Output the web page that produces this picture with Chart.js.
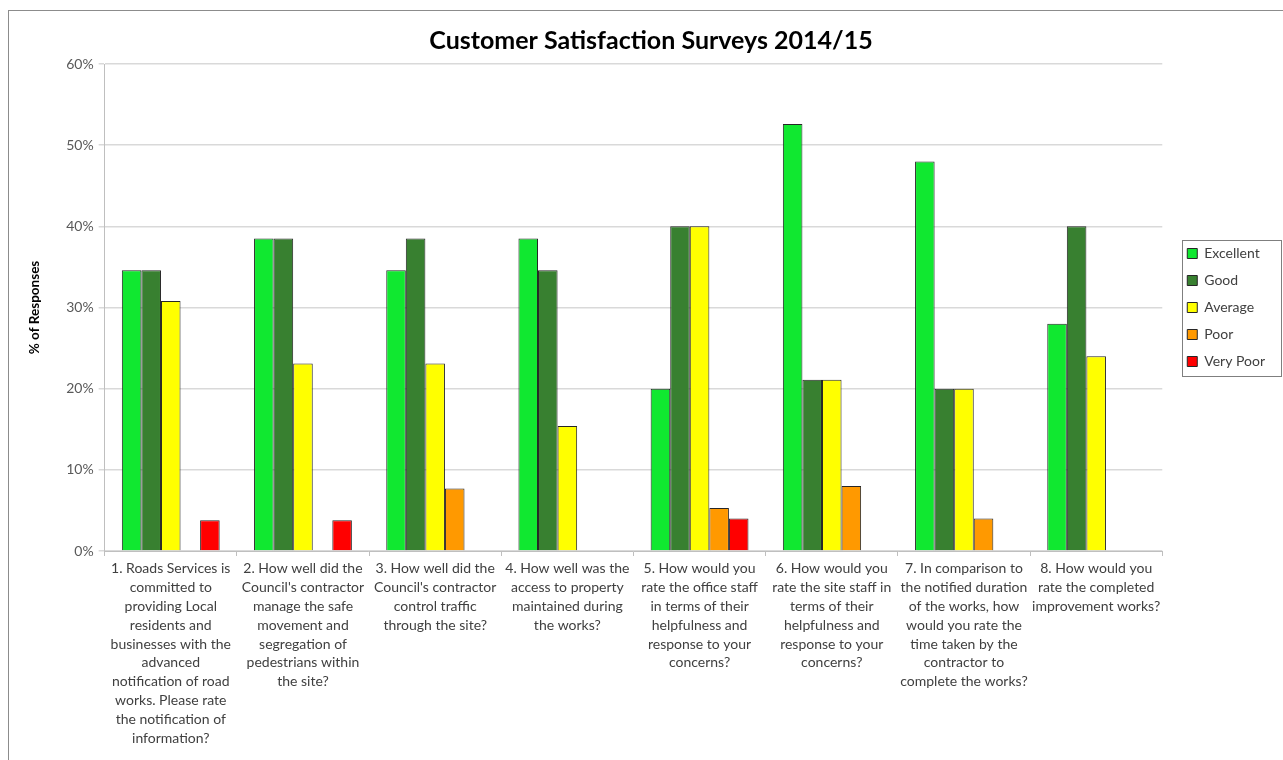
<!DOCTYPE html>
<html>
<head>
<meta charset="utf-8">
<script src="https://cdn.jsdelivr.net/npm/chart.js@4"></script>
<style>
    body { margin: 0; background: #fff; overflow: hidden; }
    #frame {
        position: absolute; left: 8px; top: 10px; width: 1290px; height: 760px;
        border: 1px solid #8c8c8c; box-sizing: border-box; background: #fff;
    }
    #wrap { position: absolute; left: 0; top: 0; width: 1275px; height: 750px; }
</style>
</head>
<body>
<div id="frame"><div id="wrap"><canvas id="surveyChart"></canvas></div></div>
<script>
// Survey questions (x axis)
const questions = [
    ['1. Roads Services is', 'committed to', 'providing Local', 'residents and', 'businesses with the', 'advanced', 'notification of road', 'works. Please rate', 'the notification of', 'information?'],
    ['2. How well did the', "Council's contractor", 'manage the safe', 'movement and', 'segregation of', 'pedestrians within', 'the site?'],
    ['3. How well did the', "Council's contractor", 'control traffic', 'through the site?'],
    ['4. How well was the', 'access to property', 'maintained during', 'the works?'],
    ['5. How would you', 'rate the office staff', 'in terms of their', 'helpfulness and', 'response to your', 'concerns?'],
    ['6. How would you', 'rate the site staff in', 'terms of their', 'helpfulness and', 'response to your', 'concerns?'],
    ['7. In comparison to', 'the notified duration', 'of the works, how', 'would you rate the', 'time taken by the', 'contractor to', 'complete the works?'],
    ['8. How would you', 'rate the completed', 'improvement works?']
];

// % of responses per rating
const excellent = [34.6, 38.5, 34.6, 38.5, 20.0, 52.6, 48.0, 28.0];
const good      = [34.6, 38.5, 38.5, 34.6, 40.0, 21.1, 20.0, 40.0];
const average   = [30.8, 23.1, 23.1, 15.4, 40.0, 21.1, 20.0, 24.0];
const poor      = [0, 0, 7.7, 0, 5.3, 8.0, 4.0, 0];
const veryPoor  = [3.8, 3.8, 0, 0, 4.0, 0, 0, 0];

const yTicks = [0, 10, 20, 30, 40, 50, 60];

const LEGEND_GAP = 12;

// legend sits a bit away from the plot, centred on it, with a thin box round it
const legendBox = {
    id: 'legendBox',
    beforeLayout(chart) {
        const lg = chart.legend;
        if (!lg || lg._gapPatched) return;
        const fit = lg.fit.bind(lg);
        lg.fit = function () { fit(); this.width += LEGEND_GAP; };
        lg._gapPatched = true;
    },
    afterLayout(chart) {
        const lg = chart.legend;
        if (!lg) return;
        lg.left += LEGEND_GAP;
        lg.top = chart.chartArea.top;
        lg.bottom = chart.chartArea.bottom;
        lg.height = lg.bottom - lg.top;
    },
    afterDraw(chart) {
        const lg = chart.legend;
        if (!lg || !lg.legendHitBoxes.length) return;
        const boxes = lg.legendHitBoxes;
        const top = boxes[0].top - 7;
        const bottom = boxes[boxes.length - 1].top + boxes[boxes.length - 1].height + 7;
        const left = boxes[0].left - 5;
        const right = chart.width - 3;
        const ctx = chart.ctx;
        ctx.save();
        ctx.strokeStyle = '#7f7f7f';
        ctx.lineWidth = 1;
        ctx.strokeRect(Math.round(left) + 0.5, Math.round(top) + 0.5, Math.round(right - left), Math.round(bottom - top));
        ctx.restore();
    }
};

const mk = (label, data, color) => ({
    label: label,
    data: data,
    backgroundColor: color,
    borderColor: '#262626',
    borderWidth: 1,
    categoryPercentage: 0.74,
    barPercentage: 1.0
});

const ctx = document.getElementById('surveyChart').getContext('2d');
new Chart(ctx, {
    type: 'bar',
    data: {
        labels: questions,
        datasets: [
            mk('Excellent', excellent, '#10E830'),
            mk('Good', good, '#388030'),
            mk('Average', average, '#FFFF00'),
            mk('Poor', poor, '#FF9900'),
            mk('Very Poor', veryPoor, '#FF0000')
        ]
    },
    options: {
        responsive: true,
        maintainAspectRatio: false,
        animation: false,
        layout: { padding: { left: 18, right: 9, top: 0, bottom: 10 } },
        plugins: {
            title: {
                display: true,
                text: 'Customer Satisfaction Surveys 2014/15',
                color: '#000',
                font: { family: 'Lato', size: 25, weight: 'bold' },
                padding: { top: 15, bottom: 8 }
            },
            legend: {
                position: 'right',
                labels: {
                    color: '#404040',
                    font: { family: 'Lato', size: 14 },
                    boxWidth: 10,
                    boxHeight: 10,
                    padding: 13
                }
            },
            tooltip: { enabled: false }
        },
        scales: {
            x: {
                grid: { display: true, offset: true, drawOnChartArea: false, color: '#bfbfbf', tickLength: 5 },
                border: { color: '#bfbfbf' },
                ticks: {
                    color: '#404040',
                    font: { family: 'Lato', size: 14, lineHeight: 1.35 },
                    maxRotation: 0,
                    autoSkip: false,
                    padding: 3
                }
            },
            y: {
                min: 0,
                max: 60,
                afterBuildTicks: (axis) => { axis.ticks = yTicks.map(v => ({ value: v })); },
                grid: { color: '#d9d9d9', lineWidth: 1.5, tickLength: 6 },
                border: { color: '#bfbfbf' },
                ticks: {
                    color: '#595959',
                    font: { family: 'Lato', size: 14 },
                    padding: 5,
                    callback: (v) => v + '%'
                },
                title: {
                    display: true,
                    text: '% of Responses',
                    color: '#000',
                    font: { family: 'Lato', size: 13.5, weight: 'bold' },
                    padding: { top: 0, bottom: 18 }
                }
            }
        }
    },
    plugins: [legendBox]
});
</script>
</body>
</html>
